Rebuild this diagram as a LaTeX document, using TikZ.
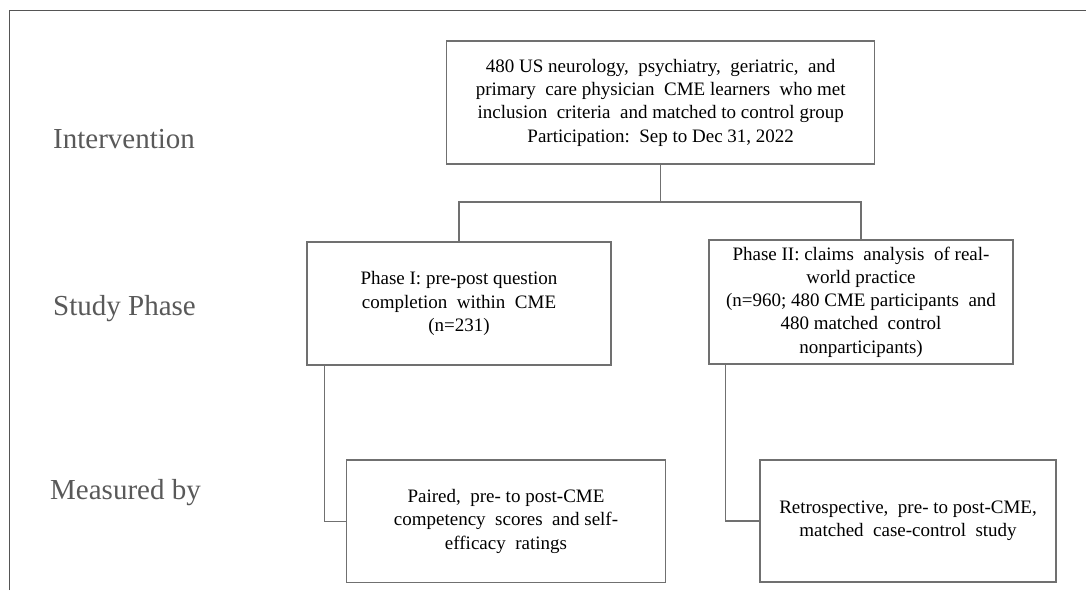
\documentclass[tikz,border=0pt]{standalone}
\usepackage{fontspec}
\setmainfont{Liberation Serif}
\definecolor{lab}{HTML}{595959}
\definecolor{ln}{HTML}{707070}
\definecolor{fr}{HTML}{555555}
\begin{document}
\begin{tikzpicture}[x=1pt,y=-1pt,
  box/.style={draw=ln,line width=1.1pt,align=center,inner sep=0pt,
    font=\fontsize{19}{23.3}\selectfont,text=black},
  lbl/.style={anchor=base west,inner sep=0pt,text=lab,font=\fontsize{29}{32}\selectfont},
  conn/.style={draw=ln,line width=1.1pt}]
\useasboundingbox (0,0) rectangle (1086,590);
\draw[draw=fr,line width=1.4pt] (9.5,590) -- (9.5,10.5) -- (1086,10.5);

\node[lbl] (l1) at (53,148) {Intervention};
\node[lbl] (l2) at (53,315) {Study Phase};
\node[lbl] (l3) at (50,499) {Measured by};

\node[box,minimum width=428pt,minimum height=123pt] (top) at (660.7,102.5)
 {480 US neurology,\ \ psychiatry,\ \ geriatric,\ \ and\\
  primary\ \ care physician\ \ CME learners\ \ who met\\
  inclusion\ \ criteria\ \ and matched to control group\\
  Participation:\ \ Sep to Dec 31, 2022};
\node[box,minimum width=304pt,minimum height=123pt] (p1) at (459,303.5)
 {Phase I: pre-post question\\ completion\ \ within\ \ CME\\ (n=231)};
\node[box,minimum width=304pt,minimum height=124pt] (p2) at (861,302)
 {Phase II: claims\ \ analysis\ \ of real-\\ world practice\\
  (n=960; 480 CME participants\ \ and\\ 480 matched\ \ control\\ nonparticipants)};
\node[box,minimum width=318.6pt,minimum height=122.7pt] (m1) at (506,521.3)
 {Paired,\ \ pre- to post-CME\\ competency\ \ scores\ \ and self-\\ efficacy\ \ ratings};
\node[box,minimum width=296pt,minimum height=122pt] (m2) at (908,521)
 {Retrospective,\ \ pre- to post-CME,\\ matched\ \ case-control\ \ study};

\coordinate (hb) at (660.7,202);
\draw[conn] (top.south) -- (hb);
\draw[conn] (p1.north) |- (hb) -| (p2.north);
\draw[conn] ([xshift=18.3pt]p1.south west) |- (m1.west);
\draw[conn] ([xshift=17pt]p2.south west) |- (m2.west);
\end{tikzpicture}
\end{document}
